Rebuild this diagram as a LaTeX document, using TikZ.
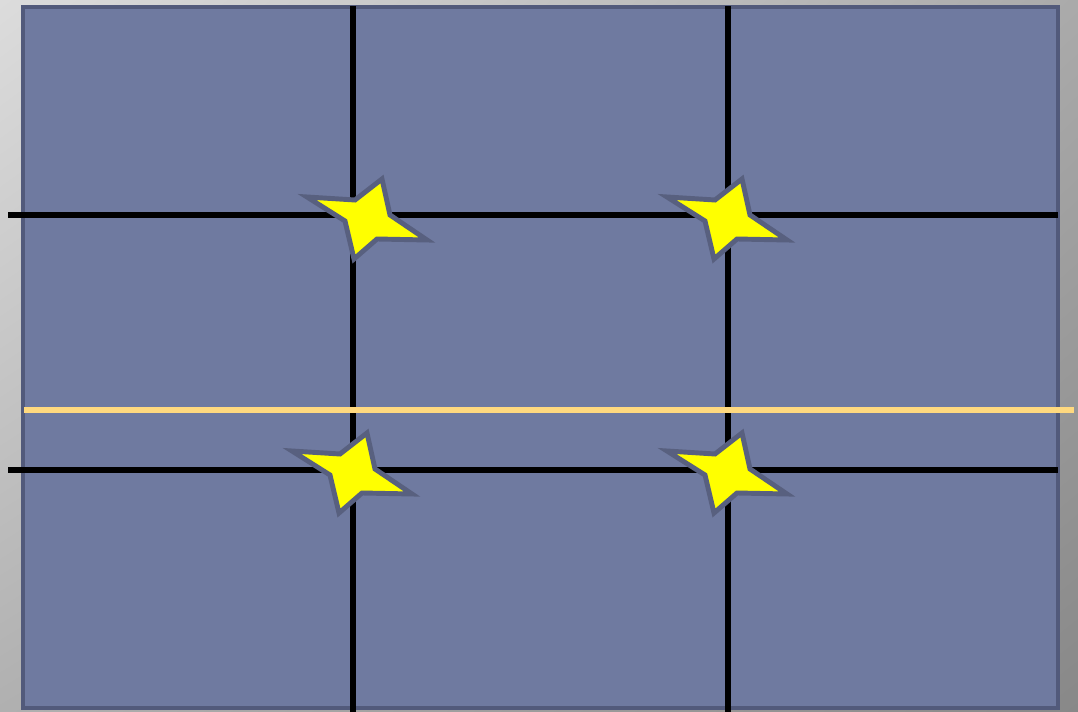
\documentclass[tikz,border=0pt]{standalone}
\usepackage{tikz}
\usetikzlibrary{calc,shadings}
\definecolor{panel}{HTML}{6F7AA0}
\definecolor{panelrim}{HTML}{525A7B}
\definecolor{horizon}{HTML}{FFD97F}
\definecolor{starfill}{HTML}{FFFF00}
\definecolor{starrim}{HTML}{58607F}
\definecolor{bgul}{HTML}{DCDCDC}
\definecolor{bgur}{HTML}{AAAAAA}
\definecolor{bgll}{HTML}{B0B0B0}
\definecolor{bglr}{HTML}{888888}
\tikzset{
  frame/.style={fill=panel, draw=panelrim, line width=2.6pt},
  gridline/.style={draw=black, line width=2.9pt},
  horizonline/.style={draw=horizon, line width=2.9pt},
  starshape/.style={fill=starfill, draw=starrim, line width=2.8pt, line join=miter},
  pics/focus/.style={code={
    \draw[starshape] (15,-40) -- (23,-4) -- (60,21) -- (10,20) -- (-13,40)
      -- (-22,2) -- (-60,-22) -- (-12,-19) -- cycle;
  }}
}
\begin{document}
\begin{tikzpicture}[x=0.02cm, y=-0.02cm]
\useasboundingbox (0,0) rectangle (1078,712);
\shade[upper left=bgul, upper right=bgur, lower left=bgll, lower right=bglr]
  (0,0) rectangle (1078,712);
\draw[frame] (23,7) rectangle (1058,708);
% thirds
\coordinate (v1) at (353,6);   \coordinate (v1e) at (353,712);
\coordinate (v2) at (728,6);   \coordinate (v2e) at (728,712);
\coordinate (h1) at (8,215);   \coordinate (h1e) at (1058,215);
\coordinate (h2) at (8,470);   \coordinate (h2e) at (1058,470);
\coordinate (hz) at (24,410);  \coordinate (hze) at (1074,410);
\draw[gridline] (v1) -- (v1e);
\draw[gridline] (v2) -- (v2e);
\draw[gridline] (h1) -- (h1e);
\draw[gridline] (h2) -- (h2e);
\draw[horizonline] (hz) -- (hze);
% focus points
\pic at (367,219) {focus};
\pic at (727,219) {focus};
\pic at (352,473) {focus};
\pic at (727,473) {focus};
\end{tikzpicture}
\end{document}
